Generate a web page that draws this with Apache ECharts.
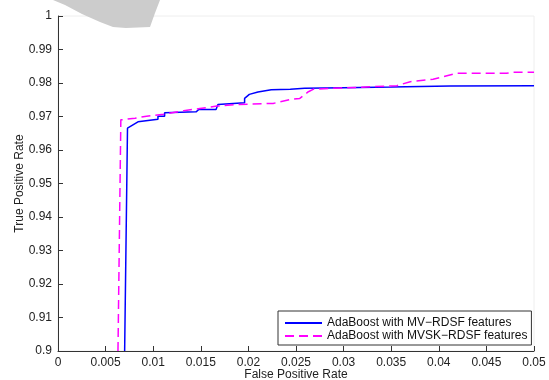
<!DOCTYPE html>
<html>
<head>
<meta charset="utf-8">
<script src="https://cdn.jsdelivr.net/npm/echarts@6/dist/echarts.min.js"></script>
<style>
  html, body { margin: 0; padding: 0; background: #fff; }
  #rocChart { width: 549px; height: 380px; }
</style>
</head>
<body>
<div id="rocChart"></div>
<script>
// ROC curves, points
const fprMV = [0.0070, 0.0073, 0.0084, 0.0105, 0.0105, 0.0112, 0.0112, 0.0145, 0.0148, 0.0166, 0.0168,
  0.0196, 0.0196, 0.0201, 0.0210, 0.0212, 0.0224, 0.0244, 0.0259, 0.0300, 0.0350, 0.0412, 0.0500];
const tprMV = [0.9000, 0.9665, 0.9684, 0.9692, 0.9701, 0.9701, 0.9711, 0.9714, 0.9721, 0.9721, 0.9736,
  0.9741, 0.9754, 0.9766, 0.9773, 0.9777, 0.9780, 0.9781, 0.9784, 0.9786, 0.9788, 0.9791, 0.9792];

const fprMVSK = [0.0063, 0.0066, 0.0081, 0.0093, 0.0111, 0.0132, 0.0149, 0.0167, 0.0188, 0.0226, 0.0244,
  0.0254, 0.0263, 0.0268, 0.0289, 0.0356, 0.0370, 0.0394, 0.0419, 0.0471, 0.0478, 0.0500];
const tprMVSK = [0.9000, 0.9690, 0.9695, 0.9701, 0.9707, 0.9717, 0.9724, 0.9731, 0.9736, 0.9739, 0.9751,
  0.9754, 0.9774, 0.9781, 0.9784, 0.9792, 0.9804, 0.9811, 0.9829, 0.9829, 0.9832, 0.9832];

const seriesNames = ['AdaBoost with MV\u2212RDSF features', 'AdaBoost with MVSK\u2212RDSF features'];

const zip = (xs, ys) => xs.map((x, i) => [x, ys[i]]);

const myChart = echarts.init(document.getElementById('rocChart'));
const axisFont = { fontFamily: 'Liberation Sans, Arial, sans-serif', fontSize: 12, color: '#222' };

myChart.setOption({
  animation: false,
  grid: {
    left: 58, right: 15, top: 16, bottom: 29,
    outerBoundsMode: 'none',
    containLabel: false,
    show: true,
    borderColor: '#eeeeee',
    borderWidth: 1
  },
  // grey smudge over the top-left corner of the original
  graphic: [{
    type: 'polygon',
    z: 100,
    shape: {
      points: [[53, 0], [160, 0], [155, 13], [150, 27], [126, 28], [113, 27], [100, 22],
        [82, 14], [65, 5]]
    },
    style: { fill: '#cccccc' }
  }],
  legend: {
    show: true,
    orient: 'vertical',
    left: 278,
    top: 311,
    borderColor: '#333',
    borderWidth: 1,
    padding: [6, 4, 3, 6],
    itemGap: 1,
    itemWidth: 37,
    itemHeight: 12,
    itemStyle: { color: 'rgba(0,0,0,0)', borderWidth: 0 },
    textStyle: { fontFamily: 'Liberation Sans, Arial, sans-serif', fontSize: 12, color: '#111' },
    data: seriesNames
  },
  xAxis: {
    type: 'value',
    min: 0,
    max: 0.05,
    interval: 0.005,
    name: 'False Positive Rate',
    nameLocation: 'middle',
    nameGap: 18,
    nameMoveOverlap: false,
    nameTextStyle: axisFont,
    axisLine: { lineStyle: { color: '#333', width: 1 } },
    axisTick: { inside: true, length: 5, lineStyle: { color: '#333' } },
    axisLabel: { ...axisFont, margin: 6 },
    splitLine: { show: false }
  },
  yAxis: {
    type: 'value',
    min: 0.9,
    max: 1,
    interval: 0.01,
    name: 'True Positive Rate',
    nameLocation: 'middle',
    nameGap: 32,
    nameMoveOverlap: false,
    nameTextStyle: axisFont,
    axisLine: { show: true, lineStyle: { color: '#333', width: 1 } },
    axisTick: { show: true, inside: true, length: 5, lineStyle: { color: '#333' } },
    axisLabel: { ...axisFont, margin: 6 },
    splitLine: { show: false }
  },
  series: [
    {
      name: seriesNames[0],
      type: 'line',
      symbol: 'none',
      data: zip(fprMV, tprMV),
      lineStyle: { color: '#0000ff', width: 1.5 },
      itemStyle: { color: '#0000ff' }
    },
    {
      name: seriesNames[1],
      type: 'line',
      symbol: 'none',
      data: zip(fprMVSK, tprMVSK),
      lineStyle: { color: '#ff00ff', width: 1.5, type: [9, 5] },
      itemStyle: { color: '#ff00ff' }
    }
  ]
});
</script>
</body>
</html>
